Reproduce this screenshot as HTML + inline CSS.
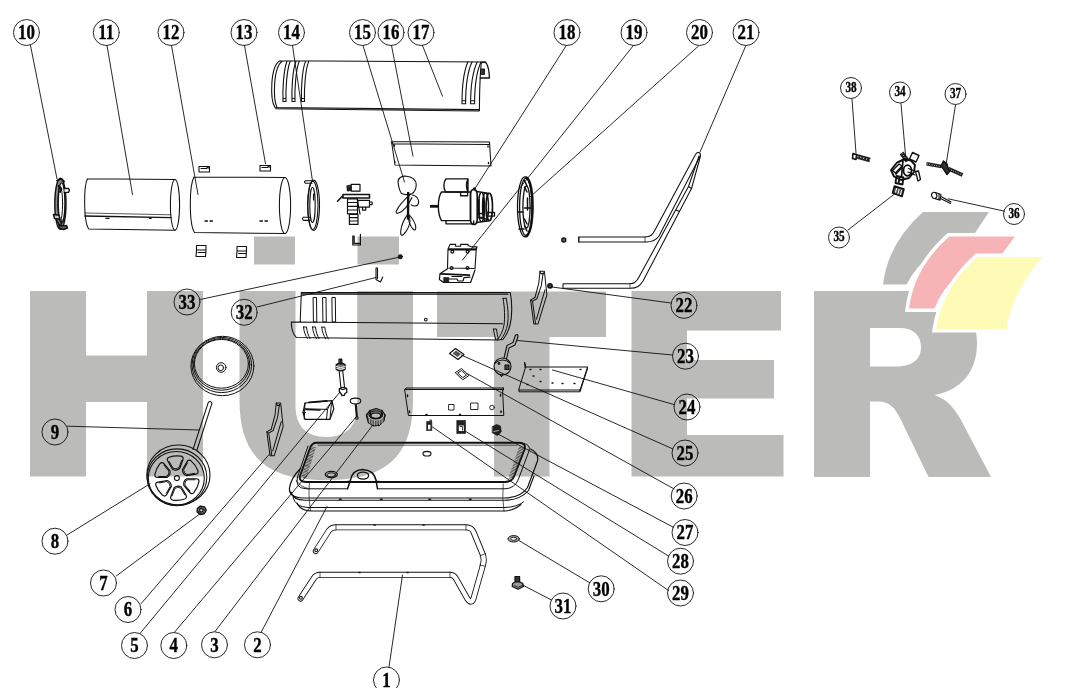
<!DOCTYPE html>
<html><head><meta charset="utf-8"><title>Parts diagram</title>
<style>
html,body{margin:0;padding:0;background:#fff;}
body{width:1082px;height:688px;overflow:hidden;font-family:"Liberation Serif",serif;}
svg{display:block;}
.l{fill:none;stroke:#111;stroke-width:0.9;stroke-linecap:round;stroke-linejoin:round;}
.p{stroke-width:1.05;}
.t{fill:none;stroke:#111;stroke-width:0.7;}
.k{fill:#222;stroke:#111;stroke-width:0.6;}
.n{font-family:"Liberation Serif",serif;font-weight:bold;fill:#000;text-anchor:middle;}
</style></head><body>
<svg width="1082" height="688" viewBox="0 0 1082 688">
<rect width="1082" height="688" fill="#fff"/>
<g id="wm" fill="#bbbbba">
<path d="M30,291H86V355.5H147V291H203V476.5H147V402H86V476.5H30Z"/>
<path d="M239.5,291H295.5V406C295.5,426 306.4,437 326.4,437C346.400,437 357.200,426 357.200,406V291H413V400C413,458 384.500,480 326.250,480C268,480 239.500,458 239.500,400Z"/>
<rect x="254" y="236.5" width="41" height="28"/><rect x="357.5" y="236.5" width="41.5" height="28"/>
<path d="M437,291.5H606V337H549.5V476.5H494V337H437Z"/>
<path d="M631.5,291H781V330.5H687V360H774V398.5H687V435H783.5V476.5H631.5Z"/>
<path d="M814,291H925C957,291 977,310 977,343C977,371 962,390 934.5,395C946,399 953,406 961,420L991,477H928.5L901,420C895,408 890,401.5 878,401.5H870V477H814Z M870,328V366.5H895C913,366.5 921,359 921,347.5C921,336 914,328 900,328Z" fill-rule="evenodd"/>
</g>
<g id="logo" stroke="#fff" stroke-width="7" stroke-linejoin="miter" paint-order="stroke">
<path fill="#bbbbba" d="M923,212L989,212L975,233Q925,248 906.5,284.5L883,284.5Q888,243 923,212Z"/>
<path fill="#f6b4b7" d="M949,236.5L1015,236.5L1002,254Q950,268 934.5,308.5L909,308.5Q914,268 949,236.5Z"/>
<path fill="#fdfbb6" d="M977,257L1042.5,257Q1012,292 1006.5,329L936,329Q942,289 977,257Z"/>
</g>
<g id="row1" class="l p">
<!-- ring 10 -->
<g stroke-width="1.400">
<ellipse cx="60.400" cy="203.800" rx="5.600" ry="25.500" fill="#8a8a8a"/>
<ellipse cx="61.600" cy="203" rx="3.300" ry="20" fill="#fff" stroke-width="1.200"/>
<ellipse cx="60.200" cy="203.500" rx="2.400" ry="17" stroke-width="1"/>
<path d="M57,180.500l4.500,-1.500l2.500,2.500M58.500,186l3,3l-1.500,3" stroke-width="1.800"/>
<path d="M64.500,188.500h4q1.800,1.800 0,3.800h-4" fill="#fff" stroke-width="1.300"/>
<path d="M53.500,214.500l5.500,0.800l1,4l-5.500,-0.800z" fill="#ccc" stroke-width="1.500"/>
<path d="M59,224.500l3,1.500l4.500,-0.500l1,2.500l-4,1.500l-4.500,-1.500z" fill="#666" stroke-width="1.400"/>
<path d="M57,220l3,6M62,220l-1,5" stroke-width="1.300"/>
</g>
<!-- cylinder 11 -->
<path d="M87.5,178.8L175,179.5M88.8,229L175,230.2M87.5,178.8C83.5,186 83.5,222 88.8,229"/>
<ellipse cx="175" cy="204.8" rx="4.6" ry="25.4"/>
<path d="M84.800,213L171,214.800" stroke-width="0.700"/><path d="M84.800,216L171.200,217.600" stroke-width="1.300"/>
<path d="M106,218.4h3M149.5,218.4h1.5" stroke-width="1.4"/>
<!-- cylinder 12 -->
<path d="M194,177L285,177.5M194.5,232.5L285,233.6M194,177C189,186 189,224 194.5,232.5"/>
<ellipse cx="285" cy="205.5" rx="5.6" ry="28"/>
<path d="M205,221h2.5M210,221h2.5M260,221h2.5M265,221h2.5" stroke-width="1.3"/>
<!-- clips 13 top -->
<path d="M199,166.5h10.5v5.5h-10.5zM201,168.5h6M206,166.5l3.5,2" stroke-width="1.1"/>
<path d="M260,165.5h10.5v5.5h-10.5zM262,167.5h6M267,165.5l3.5,2" stroke-width="1.1"/>
<!-- clips bottom -->
<path d="M196.5,245.5h9.5v4.5h-9.5zM196.5,250l-0.5,6.5h9.5l0.5,-6.5M198,252.5h7" stroke-width="1.1"/>
<path d="M237,246.5h9.5v4.5h-9.5zM237,251l-0.5,6.5h9.5l0.5,-6.5M238.5,253.500h7" stroke-width="1.1"/>
<!-- ring 14 -->
<g stroke-width="1.100">
<ellipse cx="313.700" cy="205.300" rx="5.800" ry="25.200"/>
<ellipse cx="312.800" cy="205.300" rx="5.200" ry="24.200"/>
<ellipse cx="312.500" cy="205" rx="2.700" ry="17.500"/>
<path d="M312,180.8h-6.5q-2,1.2 0,2.4h6.5M310,217.2h-6.5q-2.200,1.600 0,3.2h6.500M313.5,194v6"/>
</g>
<!-- burner assembly -->
<g stroke-width="1.2">
<path d="M351.200,184.400h8.800v6.800h-8.800zM347,186l4,-1v5l-3,1z"/>
<path d="M343,194.500h26.500v3.500h-26.500zM343,195.600l-5.500,5.600" stroke-width="1.5"/>
<path d="M347.500,198.800h10v15h-10zM347.500,202.500h10M347.500,206.300h10M347.500,210h10"/>
<path d="M349.400,214.400h8.600v10h-8.600zM349.400,217.700h8.600M349.400,221h8.600"/>
<path d="M358,200.300h11.500v6.800h-11.500zM369.500,202h2.600v2.600h-2.600M362.500,207.100v3h3.200v-3M357,198l3,16"/>
</g>
<path d="M347.500,186.500h3.600v4h-3.600z" class="k"/>
<!-- clip U -->
<path d="M352.800,236.200v8.800h7.600v-10.600M354.200,236.200v7.200h5M352.800,236.200h1.400" stroke-width="1.2"/>
<!-- fan 15 -->
<g stroke-width="1.100">
<path d="M398.100,182.500C397.500,178 402,175.800 406.300,176.200C411.500,176.600 416.300,179.500 416.200,185C416.100,189 414.500,192 412,193.800C409,195 404,195 401.300,193.300C399.500,190.500 398.500,186 398.100,182.500Z"/>
<path d="M410.800,194.200C405,199 398.500,206.500 396.200,211.300C395.800,213 397,213.500 398.500,213C403,211.500 408.500,205 411.900,197.500"/>
<path d="M412.500,195C415.500,195.800 418,198 418.600,201C419,204 417.500,205.800 415,206C413.500,206 412,205.500 411.200,204.800"/>
<path d="M407.800,214.400C404.500,218.500 401.500,225 400.700,231C400.300,235 401.500,236.200 403.500,234.500C406.500,231.500 409.500,225.500 410,221C410,218 409.300,216 408.600,215"/>
<path d="M409.400,215C412.500,218.500 415.500,223.500 415.800,227.500C415.800,230.500 414.500,230.500 413,229C411,227 409,222 408.300,218"/>
<path d="M408.200,192L408,219.500" stroke-width="2.400" stroke-linecap="butt"/>
</g>
<!-- motor 18 -->
<path d="M430,206.300H438" stroke-width="2.800" stroke-linecap="butt"/>
<g stroke-width="1.350">
<path d="M441.500,192H470.500V220.600H441.500C437.300,214 437.300,198 441.500,192Z"/>
<path d="M446,178.800H468V192H445.500C443.300,188 443.300,182 446,178.800ZM468,178.800C466,183 466,188 468,192"/>
<path d="M460.600,192v3.700h7v-3.700M446,220.600v3.200h27.700v-3"/>
<path d="M473.500,189.500C471,189.500 470.500,192 470.500,195V219C470.500,222.500 471.500,224.500 474,224.500C476.500,224.500 477.200,222.500 477.200,219V195C477.200,192 476.500,189.500 473.500,189.500Z" stroke-width="1.600"/>
<path d="M476.500,191.500L489,193.300M476.500,222.500L489,220.800"/>
<ellipse cx="481.500" cy="207" rx="3" ry="14.600"/>
<ellipse cx="485.500" cy="207" rx="3" ry="14.200"/>
<ellipse cx="489.300" cy="207" rx="3.200" ry="13.800" stroke-width="1.600"/>
<path d="M479,200v14M483.500,198v17" stroke-width="1.800"/>
<path d="M486.500,212.500h8v3.600h-8zM479.500,213.500h4.500v4h-4.500zM478.500,217.500l10,2" stroke-width="1.300"/>
</g>
<circle cx="474.400" cy="188.800" r="1.200" class="k"/>
<!-- ring 20 -->
<g stroke-width="1.300">
<ellipse cx="525" cy="206.900" rx="7.500" ry="30"/>
<ellipse cx="525.800" cy="206.900" rx="6.200" ry="28.600"/>
<ellipse cx="526.500" cy="207" rx="3.600" ry="21"/>
<path d="M526.500,177.500C531,180 532.800,195 532.600,207C532.400,220 530.500,233 526.500,236.300" stroke-width="2.400"/>
<path d="M518,212h5M519,229h5M527.500,198v12M524.500,208h6M524.500,180.500l2.500,5.500M524.500,187l2.500,5M524.500,226l2.500,5M524.500,219l2.500,5" stroke-width="1.500"/>
</g>
</g>
</g>
<g id="shells" class="l p">
<!-- upper shell 17 -->
<g stroke-width="1.100">
<path d="M280,60.800L486,62M275,107.500L479.500,109.600M280,60.800C270,66 270,100 275,107.500M275.500,108.800L479,111M282.500,61C273,67 273,99 277,107.500"/>
<path d="M481.300,62.500C480,75 479.500,95 479.400,110.500"/>
<path d="M481.300,63C483,61.800 485.500,62 486.500,63.500C488.500,67 489.300,73 489.400,78H480.200" stroke-width="1.300"/>
<path d="M481.500,69h2.900v5.400h-2.900z" fill="#333" stroke-width="1"/>
</g>
<g stroke-width="1.100">
<path d="M287,61.200C283.500,70 282.500,90 283,101.500h3C285.500,90 286.700,70 290.200,61.200M283,98.500h3"/>
<path d="M296,61.300C292.500,70 291.500,90 292,101.500h3C294.500,90 295.700,70 299.200,61.300M292,98.500h3"/>
<path d="M305.500,61.400C302,70 301,90 301.500,101.500h3C304,90 305.200,70 308.700,61.400M301.500,98.500h3"/>
<path d="M467.800,62C463.500,72 462,90 462,103.800h3.600C465.600,90 467.300,72 472,62M462,100.800h3.600"/>
<path d="M477.200,62C472.500,72 470.600,90 470.600,103.800h4C474.600,90 476.300,72 481,62M470.600,100.800h4"/>
</g>
<!-- plate 16 -->
<path d="M391.500,141.500L489.500,142L491,166L395,165ZM391.500,143.800L489.500,144.500M391.500,141.500l3.500,23.500"/>
<path d="M394.500,145v1M488,146v1M394.800,161.500v1M488.500,162.500v1" stroke-width="1.400"/>
<!-- lower shell -->
<path d="M301.300,292.500L510,292.500M291.300,322L502.500,323.800M296.300,337.500L497.500,340M301.300,292.500L300.200,322.300M291.300,322C291.300,329 293,334 296.300,337.500"/>
<path d="M302,294L508,294.200" stroke-width="1.300"/>
<path d="M510.200,292.500C512.300,302 512.300,316 510,325C508.500,331 506,336 503,339.500L497.500,340" stroke-width="1.100"/>
<g stroke-width="1">
<path d="M313.500,297.500h3l0.300,24.500h-3zM323,297.500h3l0.300,24.500h-3zM332.300,297.500h3l0.300,24.500h-3z"/>
<path d="M303.500,327h3C307,332 308.500,336 310,338.500M303.500,327C304,332 305.500,336 307.500,338.500"/>
<path d="M312.500,327h3C316,332 317.500,336 319,338.700M312.500,327C313,332 314.500,336 316.500,338.700"/>
<path d="M321.800,327.200h3C325.300,332 326.800,336 328.300,338.900M321.800,327.200C322.300,332 323.800,336 325.800,338.900"/>
<path d="M503,298.300h3.200M503,298.300C504.800,308 505,318 504,325C503,331 500.500,336 497.500,339.500M506.200,298.300C508.300,308 508.600,317 507.600,324C506.500,330 504,336 500.800,339.600"/><path d="M493.500,329h3C497,333 497.500,336 498.500,339M493.500,329C494,333 495,337 496,339.800"/>
</g>
<circle cx="425.800" cy="319.600" r="1.400"/>
<!-- bracket 19 -->
<path d="M450,244.400H455.600V246.300H460.600V244.400H468V245.600L472,246.900H477L476.200,250L475,268.500L447.500,268L448,249Z" stroke-width="1.100"/>
<path d="M448,249.400H476.200" stroke-width="2.200" stroke-linecap="butt"/>
<path d="M447.500,268.700L440,273.800L439.400,279.400L443.800,282.500H470.600L475,270" stroke-width="1.200"/>
<path d="M440.600,273.800L469.400,275.200" stroke-width="1.800"/>
<path d="M448.800,279H457L458,281H463L464,277.600L470,277.200M452,276.500h10" stroke-width="1.200"/>
<path d="M443.800,277.500h5v5h-5z" class="k"/>
<circle cx="452.300" cy="251.800" r="1.400" stroke-width="1.200"/><circle cx="467.500" cy="251.800" r="1.400" stroke-width="1.200"/><circle cx="451.600" cy="268" r="1.400" stroke-width="1.200"/><circle cx="467.500" cy="268" r="1.400" stroke-width="1.200"/>
<!-- part 33, 32 -->
<circle cx="400.300" cy="256.800" r="2.200" class="k"/>
<path d="M376,268v11.500l4.500,2.500l2.200,-5M377.500,268v10.500M376,268h1.500" stroke-width="1.100"/>
<!-- side brackets -->
<g id="sbr" stroke-width="1" transform="translate(0,271.300) scale(1,1.048) translate(0,-271.300)">
<path d="M540,271.300H544.400L546.900,293.800L538,321.500H533.800L530.600,298.800L535,296.300L538.800,282.500Z"/>
<path d="M543.200,272.500L541.300,285L536.900,297.500L532.500,300L535.500,321M545,289L536.500,317M540,271.300l0.800,2.200h3M530.600,298.800l2,1.200"/>
</g>
<use href="#sbr" transform="translate(-263.750,131.750)"/>
<!-- handle 21 -->
<path d="M578.800,237H645C651,237 653,234 655,230L695.500,154.500C697,151.500 700.500,152 700.500,155.500L659,236C656,240.500 652,242 646,242H578.800Z"/>
<path d="M563,283.800H630C635,283.800 637,281 639,277L688.500,186.500L699,156M563,288.300H630C637,288.300 640,286 643,281L691.500,188.500L700.500,156M563,283.800V288.300M578.800,237V242M688.500,186.500L691.500,188.500M676,210l3.500,1.500"/>
<path d="M645,237v5M630,283.800v4.500" stroke-width="0.700"/>
<circle cx="563.800" cy="240" r="2" stroke-width="1.400" fill="#666"/>
<circle cx="550" cy="285.800" r="2.100" stroke-width="1.600" fill="#444"/>
</g>
<g id="left" class="l p">
<!-- disk -->
<g stroke-width="1">
<ellipse cx="222.400" cy="366" rx="31.500" ry="29.700"/>
<ellipse cx="221.800" cy="365" rx="29.800" ry="27.600"/>
<ellipse cx="221.600" cy="364.400" rx="28.200" ry="25.800"/>
<ellipse cx="221.400" cy="363.800" rx="27" ry="24.400"/>
<circle cx="221.200" cy="367.500" r="4.800"/><circle cx="220.800" cy="367.800" r="2.800"/>
</g>
<!-- axle 9 -->
<path d="M208.300,402.300L193,449.500M212,403.200L196.800,450.500M208.300,402.300q2.200,-2 3.700,0.900"/>
<!-- wheel 8 -->
<g stroke-width="1.100">
<ellipse cx="178.400" cy="475" rx="31.600" ry="30"/>
<ellipse cx="177" cy="477.300" rx="29.800" ry="28.400"/>
<ellipse cx="176.300" cy="478.300" rx="28" ry="26.800"/>
<circle cx="176.900" cy="478.100" r="2.500"/>
</g>
<g id="spokes" stroke-width="1.200">
<g transform="translate(176.900,478.100) rotate(-5)"><path d="M-6,-21.500Q0,-23 6,-21.500Q8.800,-20.500 7.600,-17.800L3.600,-9.300Q0,-6.800 -3.600,-9.300L-7.600,-17.800Q-8.800,-20.500 -6,-21.500Z"/><path d="M-6.300,-17.300L-3,-10.300Q0,-8.300 3,-10.300L6.300,-17.300" stroke-width="0.900"/></g>
<g transform="translate(176.900,478.100) rotate(55)"><path d="M-6,-21.500Q0,-23 6,-21.500Q8.800,-20.500 7.600,-17.800L3.600,-9.300Q0,-6.800 -3.600,-9.300L-7.600,-17.800Q-8.800,-20.500 -6,-21.500Z"/><path d="M-6.300,-17.300L-3,-10.300Q0,-8.300 3,-10.300L6.300,-17.300" stroke-width="0.900"/></g>
<g transform="translate(176.900,478.100) rotate(115)"><path d="M-6,-21.500Q0,-23 6,-21.500Q8.800,-20.500 7.600,-17.800L3.600,-9.300Q0,-6.800 -3.600,-9.300L-7.600,-17.800Q-8.800,-20.500 -6,-21.500Z"/><path d="M-6.300,-17.300L-3,-10.300Q0,-8.300 3,-10.300L6.300,-17.300" stroke-width="0.900"/></g>
<g transform="translate(176.900,478.100) rotate(175)"><path d="M-6,-21.500Q0,-23 6,-21.500Q8.800,-20.500 7.600,-17.800L3.600,-9.300Q0,-6.800 -3.600,-9.300L-7.600,-17.800Q-8.800,-20.500 -6,-21.500Z"/><path d="M-6.300,-17.300L-3,-10.300Q0,-8.300 3,-10.300L6.300,-17.300" stroke-width="0.900"/></g>
<g transform="translate(176.900,478.100) rotate(235)"><path d="M-6,-21.500Q0,-23 6,-21.500Q8.800,-20.500 7.600,-17.800L3.600,-9.300Q0,-6.800 -3.600,-9.300L-7.600,-17.800Q-8.800,-20.500 -6,-21.500Z"/><path d="M-6.300,-17.300L-3,-10.300Q0,-8.300 3,-10.300L6.300,-17.300" stroke-width="0.900"/></g>
<g transform="translate(176.900,478.100) rotate(295)"><path d="M-6,-21.500Q0,-23 6,-21.500Q8.800,-20.500 7.600,-17.800L3.600,-9.300Q0,-6.800 -3.600,-9.300L-7.600,-17.800Q-8.800,-20.500 -6,-21.500Z"/><path d="M-6.300,-17.300L-3,-10.300Q0,-8.300 3,-10.300L6.300,-17.300" stroke-width="0.900"/></g>
</g>
<!-- nut 7 -->
<path d="M197.300,508.500l3,-2.400l4.200,0.800l1.700,3.200l-1.900,3.700l-4.200,0.800l-3,-2.600z" stroke-width="1.300" fill="#777"/>
<path d="M198.500,508.200l6,5M200.500,506.800l5,4.300M198,511l4.500,3.600" stroke-width="0.800"/>
<circle cx="201.300" cy="510.300" r="1.700" stroke-width="1.100" fill="#ddd"/>
<!-- bracket 6 (use of side bracket) -->
<!-- box -->
<path d="M305,403L331.900,400.600L333.800,408.800L330,419.400H305L303,412.500Z" stroke-width="1.200"/>
<path d="M305,403L304.200,419M305,408.800L327.500,409.400L331.900,400.600M327.500,409.400L326.500,419.400M303,412.500h2.500M331.500,403l-1.500,16" stroke-width="1"/>
<path d="M309,402.400L327,400.900M306,409.500L320,410" stroke-width="1.700"/>
<!-- rod 5 -->
<path d="M339.200,371.500L341,388.500M342.800,371.500L344.600,388" stroke-width="1.100"/>
<path d="M339.300,388.500l3.500,-1.200l3.800,1l0.300,4l-2,1.200l-0.500,1.800l-2.600,0.200l-0.800,-2l-1.600,-1.500z" stroke-width="1.300"/>
<path d="M339.300,388.800q3.800,2 7.300,-0.300" stroke-width="1"/>
<path d="M336.300,364.500q4.400,-2.600 8.700,0v5q-4.300,2.800 -8.700,0z" fill="#777" stroke-width="1.400"/>
<path d="M336.300,366.500q4.400,2.500 8.700,0M336.500,368.300q4.300,2.500 8.300,0" stroke-width="0.900" stroke="#fff"/>
<path d="M339.300,359h2.600v5h-2.600z" fill="#222" stroke-width="1"/>
<!-- part 4 -->
<ellipse cx="355.500" cy="401" rx="5.300" ry="2.900"/>
<path d="M355.200,404L356.300,416.500M356.300,404L357.300,416.500"/>
<circle cx="356.900" cy="418" r="1.300"/>
<!-- cap 3 -->
<g stroke-width="1.300">
<path d="M366.500,415l3.500,-4.500l6,-1.800l6,1.800l3,4.500l-1,5.500l-4.500,4.500l-6,0.800l-5,-3z"/>
<ellipse cx="375.800" cy="414.800" rx="6.800" ry="4"/>
<ellipse cx="375.800" cy="415.600" rx="5" ry="2.800"/>
<path d="M366.500,415l1.500,5M370,410.500l0.800,6M382,410.500l-0.500,6M385,415l-1.500,5M372,425l0.500,-4M378.500,425.500l0.300,-4"/><path d="M367.500,417q8,7 17,0.500l-1,4.500q-7.500,6 -14.500,0.500z" fill="#555" stroke="none"/><path d="M369.500,419v4M372,420.500v4M374.500,421v4M377,421v4M379.500,420.500v4M382,419.500v3.500" stroke="#ddd" stroke-width="0.600"/>
</g>
</g>
<g id="mid" class="l p">
<!-- panel -->
<path d="M405,389.500H502.500L503.800,415.500H408.800ZM405,389.500l1,-1.500h97.500l-1,1.500M503.500,388v2" stroke-width="1"/>
<path d="M449,404.500h5v5.500h-5zM471,403h7v6.500h-7z" stroke-width="0.900"/>
<circle cx="492" cy="407.500" r="2.300" stroke-width="0.900"/>
<path d="M407.500,395v1.500M409.500,411v1.500M500.500,394.500v1.500M501,411v1.500M426,414.500h1M459.500,414.500h1" stroke-width="1.500"/>
<!-- small parts 29 28 27 -->
<path d="M426.800,421.500h5v9h-5zM429.500,420h2v1.500" class="k"/><path d="M428,424.800h2.400v4.600h-2.400z" fill="#fff" stroke="none"/>
<path d="M457,420.500h8.500v13h-8.500z" class="k"/><path d="M458.800,425.500h5v5.500h-5z" fill="#fff" stroke="none"/><path d="M460,426.500h2.500v3.500" stroke="#111" stroke-width="0.800" fill="none"/>
<path d="M492.500,426.500l4,-2l4,1.500l0.800,6l-4,3.500l-4.800,-2.500z" class="k"/><path d="M494,431.500l4.500,-1" stroke="#ccc" stroke-width="0.800"/>
<!-- squares 25,26 -->
<path d="M449.500,353.500l6,-5l8.500,6l-6,5z" stroke-width="1.200"/><path d="M452.500,353.500l3.500,-3l5,3.500l-3.500,3z" fill="#555" stroke="none"/>
<path d="M455.500,372.500l6,-4l7.500,7l-6,4zM458,372.800l3.500,-2.300l5,4.600l-3.500,2.300z" stroke-width="1"/>
<!-- round part 23/25 -->
<g stroke-width="1.100">
<circle cx="502.500" cy="366.500" r="8.500"/>
<path d="M494.500,363.500q8,-7 16,0M500,374.500l1.500,2l1.500,-2"/>
<path d="M504,358l3,-12.500l6,-3l2.500,-7.500l2,-0.500l0.500,2l-3,8.500l-6,3l-2.500,11M517.500,334.500l-2,0.500"/>
<path d="M505,365h4v4.500h-4z" fill="#444"/>
<circle cx="499" cy="363.500" r="0.900"/>
</g>
<!-- plate 24 -->
<path d="M526,367H587.500L580,390H519ZM519,390v1.800h60.500l0.500,-1.800M587.500,367v1.800l-7.500,23M526,367l-1.500,-5l0.500,5.500" stroke-width="1"/>
<path d="M530,369.500h1M540,369.500h1M580,369.500h1M533,376h1M562,383.500h1M574,383.500h1M527,384.500h1M540,381.500h1M552,383h1" stroke-width="1.300"/>
</g>
<g id="tank" class="l p">
<!-- tank 2 -->
<path d="M316,442.800H519Q526.500,443 524.500,449.500L514,476.500Q512,481.800 505,482H306Q298.500,481.500 300,476L309.500,449.500Q311.500,443 316,442.800Z" stroke-width="1.900"/>
<path d="M313.500,447L303.500,478.500" stroke-width="5" stroke="#333" stroke-dasharray="0.600 0.900" stroke-linecap="butt"/>
<path d="M521.500,447.500L510.500,479.500" stroke-width="5" stroke="#333" stroke-dasharray="0.600 0.900" stroke-linecap="butt"/>
<path d="M318,445.200H517" stroke-width="0.700"/>
<path d="M308,446L297.500,477Q294.500,488 306,488.800H347M378,488.800H505Q515,488.500 518.500,479L529,451Q531,445 524,443.500" stroke-width="1"/>
<path d="M300,469Q291,478 289.500,488Q288.500,497.500 303,498H505Q521,497.500 527.500,487.500L537.500,461Q539,453 530.500,449" stroke-width="1.200"/>
<path d="M291,492Q293,500 305,500.300H505Q520,500 528.500,490.500L534,476" stroke-width="1.100"/>
<path d="M293,497Q295,507 308,507.500H505Q517,507 523.500,502" stroke-width="1"/>
<path d="M297,503Q300,510.500 311,511H505Q514,510.500 521,504.500" stroke-width="1.100"/>
<path d="M309.500,482.500Q308,495 310.500,510.500M503.200,484Q502,498 504,511M296,480Q300,487 309,488.800" stroke-width="0.700"/>
<path d="M339.500,499.200h1.500M380.500,499.200h1.500M429,499.200h1.500M469.500,499.200h1.500" stroke-width="1.600"/>
<ellipse cx="427" cy="453.700" rx="4" ry="2.300" stroke-width="1.100"/>
<ellipse cx="331.300" cy="474.400" rx="6" ry="3.100" stroke-width="1.300"/><ellipse cx="331.300" cy="474.900" rx="4.300" ry="2" stroke-width="0.900"/>
<path d="M347.500,488.800L350.500,480Q352,470 362.500,469.400Q374,470 376,480L377.500,488.800M350.500,481.500h-3M376,481.500h3" stroke-width="1.500"/>
<path d="M372,472Q375.500,476 376.500,482" stroke-width="0.800"/>
<ellipse cx="363" cy="475.600" rx="5.600" ry="3.500" stroke-width="1.300"/>
<!-- frame 1 -->
<path d="M315.800,551L329,530.500Q331.500,527.300 336,527.300H466Q471.500,527.300 473.500,532L482.800,554.500Q484.500,559.500 483,565L473.500,598.500Q471.500,604.500 467.500,599L456.500,579.500Q454.500,574.800 450,574.800H320Q316,574.800 314,578L300.500,598.500" stroke="#111" stroke-width="6" fill="none" stroke-linecap="round" stroke-linejoin="round"/>
<path d="M315.800,551L329,530.500Q331.500,527.300 336,527.300H466Q471.500,527.300 473.500,532L482.800,554.500Q484.500,559.500 483,565L473.500,598.500Q471.500,604.500 467.500,599L456.500,579.500Q454.500,574.800 450,574.800H320Q316,574.800 314,578L300.500,598.500" stroke="#fff" stroke-width="4.300" fill="none" stroke-linecap="round" stroke-linejoin="round"/>
<path d="M336,524.500v5.600M466,524.500v5.600M320,572v5.600M450,572v5.600M480,555.800l5.500,-2.200M479.500,565l5.800,1.200" stroke-width="0.700"/>
<circle cx="316.200" cy="550.300" r="1.400"/><circle cx="300.900" cy="597.800" r="1.400"/>
<path d="M374,525h1.200M423,525h1.200M359,572.500h1.200M407,572.500h1.200" stroke-width="1.500"/>
<!-- washer 30 -->
<ellipse cx="513.700" cy="538.800" rx="5.800" ry="3.200" fill="#aaa" stroke-width="1"/><ellipse cx="513.700" cy="538.800" rx="3" ry="1.500" fill="#fff" stroke-width="0.900"/>
<!-- bolt 31 -->
<path d="M515,576.500h4.600v6.500h-4.600z" fill="#333" stroke-width="1.200"/>
<path d="M512.500,583.500l2.500,-1.500h5l2.800,1.500l0.700,3l-5.500,2.800l-5.800,-2.800z" fill="#999" stroke-width="1.200"/>
<path d="M514,585.500l4,1.800l4.500,-1.800" stroke-width="0.800"/>
</g>
<g id="small" class="l p">
<!-- 38 screw -->
<path d="M853,153.500l3.500,1l-0.500,5l-3.500,-1z" stroke-width="1.600"/>
<path d="M856.500,156.200l13.500,3.800" stroke-width="4.600" stroke="#222" stroke-linecap="butt"/>
<path d="M857.500,156.600l12,3.300" stroke-width="1.200" stroke="#fff" stroke-dasharray="0.900 2.100" stroke-linecap="butt"/>
<!-- 34 body -->
<g stroke-width="1.500">
<path d="M901.500,153l6,8" stroke-width="4.600" stroke="#222" stroke-linecap="butt"/>
<path d="M902,153.500l5,7" stroke-width="1" stroke="#fff" stroke-dasharray="0.700 1.500" stroke-linecap="butt"/>
<path d="M912.500,152.500l6.500,3l-3,6.500l-6.500,-3z" stroke-width="1.400"/>
<path d="M891,170l6,-7.500l7,-3.500l7,1.500l4,4.500l-1,7l-5,6l-8,2l-7,-3.500z" stroke-width="1.900"/>
<path d="M892.500,170.500l6.500,-6.500l3,2l-6.500,7z" fill="#fff" stroke-width="1.500"/>
<path d="M896,174l5.500,-6M903,160.500l-1.500,16.500M899,162l5,-2.500l3,1" stroke-width="1.700"/>
<ellipse cx="907.500" cy="170.500" rx="4" ry="5.300" stroke-width="1.800"/>
<path d="M908.500,168.500l8,3.500M908,172l7,3" stroke-width="1.300"/>
<path d="M915.500,171.500l3,-0.500l2,8.500l-2.500,1.500z" fill="#fff" stroke-width="1.300"/>
<path d="M896.500,176l7,1.500l-1,7l-7,-1.500zM899.500,177.500l-0.800,5" stroke-width="1.800"/>
</g>
<!-- 35 -->
<path d="M894.500,186l9.500,3l-2,7.500l-9.500,-3.500z" stroke-width="1.600" fill="#555"/>
<path d="M896.500,188.500l-1,4M899,189.500l-1,4M901.500,190.500l-1,4" stroke="#fff" stroke-width="1"/>
<!-- 37 -->
<path d="M926.500,163.800l15,2.800" stroke-width="3.600" stroke="#222" stroke-linecap="butt"/>
<path d="M927,163.900l14,2.600" stroke-width="1" stroke="#fff" stroke-dasharray="0.700 1.700" stroke-linecap="butt"/>
<path d="M948,168.500l14.500,6.500" stroke-width="3.600" stroke="#222" stroke-linecap="butt"/>
<path d="M949,169l13,5.800" stroke-width="1" stroke="#fff" stroke-dasharray="0.700 1.700" stroke-linecap="butt"/>
<path d="M943.500,161l3.500,3l1,4.500l2,2.500l-3,3.500l-3.500,-5.500l-2.500,-3z" stroke-width="1.400" fill="#333"/>
<!-- 36 -->
<ellipse cx="934.200" cy="195.400" rx="2.600" ry="3.100" transform="rotate(-20 934.200 195.400)" stroke-width="1.100"/>
<path d="M935.500,192.600l5.500,2l-1,5.500l-5,-1.500M939,194v5.500M941,196.500l10,5.500M940.500,198.500l10,5" stroke-width="1.100"/>
</g>
<g id="callouts" opacity="0.999">
<line class="l" x1="30.5" y1="45.5" x2="57.0" y2="178.8"/><circle class="l" cx="26.5" cy="32.5" r="13.0"/><text class="n" font-size="20.3" stroke="#000" stroke-width="0.4" transform="translate(26.5,39.3) scale(0.83,1)">10</text>
<line class="l" x1="107.0" y1="45.5" x2="132.5" y2="194.5"/><circle class="l" cx="106.3" cy="32.5" r="13.0"/><text class="n" font-size="20.3" stroke="#000" stroke-width="0.4" transform="translate(106.3,39.3) scale(0.83,1)">11</text>
<line class="l" x1="171.5" y1="45.5" x2="198.0" y2="194.5"/><circle class="l" cx="171.0" cy="32.5" r="13.0"/><text class="n" font-size="20.3" stroke="#000" stroke-width="0.4" transform="translate(171.0,39.3) scale(0.83,1)">12</text>
<line class="l" x1="244.5" y1="45.5" x2="265.5" y2="163.8"/><circle class="l" cx="244.0" cy="32.5" r="13.0"/><text class="n" font-size="20.3" stroke="#000" stroke-width="0.4" transform="translate(244.0,39.3) scale(0.83,1)">13</text>
<line class="l" x1="292.5" y1="45.5" x2="312.5" y2="181.0"/><circle class="l" cx="291.5" cy="32.5" r="13.0"/><text class="n" font-size="20.3" stroke="#000" stroke-width="0.4" transform="translate(291.5,39.3) scale(0.83,1)">14</text>
<line class="l" x1="363.0" y1="45.5" x2="404.5" y2="182.0"/><circle class="l" cx="362.5" cy="32.5" r="13.0"/><text class="n" font-size="20.3" stroke="#000" stroke-width="0.4" transform="translate(362.5,39.3) scale(0.83,1)">15</text>
<line class="l" x1="391.5" y1="45.5" x2="413.0" y2="156.2"/><circle class="l" cx="391.0" cy="32.5" r="13.0"/><text class="n" font-size="20.3" stroke="#000" stroke-width="0.4" transform="translate(391.0,39.3) scale(0.83,1)">16</text>
<line class="l" x1="422.5" y1="45.5" x2="442.5" y2="96.2"/><circle class="l" cx="421.0" cy="32.5" r="13.0"/><text class="n" font-size="20.3" stroke="#000" stroke-width="0.4" transform="translate(421.0,39.3) scale(0.83,1)">17</text>
<line class="l" x1="566.0" y1="46.0" x2="474.0" y2="190.0"/><circle class="l" cx="567.0" cy="32.5" r="13.0"/><text class="n" font-size="20.3" stroke="#000" stroke-width="0.4" transform="translate(567.0,39.3) scale(0.83,1)">18</text>
<line class="l" x1="633.0" y1="46.0" x2="462.5" y2="260.0"/><circle class="l" cx="634.0" cy="32.5" r="13.0"/><text class="n" font-size="20.3" stroke="#000" stroke-width="0.4" transform="translate(634.0,39.3) scale(0.83,1)">19</text>
<line class="l" x1="698.5" y1="46.0" x2="530.0" y2="197.0"/><circle class="l" cx="699.5" cy="32.5" r="13.0"/><text class="n" font-size="20.3" stroke="#000" stroke-width="0.4" transform="translate(699.5,39.3) scale(0.83,1)">20</text>
<line class="l" x1="745.5" y1="46.5" x2="700.0" y2="152.0"/><circle class="l" cx="746.0" cy="32.5" r="13.0"/><text class="n" font-size="20.3" stroke="#000" stroke-width="0.4" transform="translate(746.0,39.3) scale(0.83,1)">21</text>
<line class="l" x1="671.0" y1="303.0" x2="552.0" y2="287.0"/><circle class="l" cx="684.0" cy="305.4" r="13.0"/><text class="n" font-size="20.3" stroke="#000" stroke-width="0.4" transform="translate(684.0,312.2) scale(0.83,1)">22</text>
<line class="l" x1="672.5" y1="355.0" x2="517.5" y2="340.5"/><circle class="l" cx="685.5" cy="356.2" r="13.0"/><text class="n" font-size="20.3" stroke="#000" stroke-width="0.4" transform="translate(685.5,363.1) scale(0.83,1)">23</text>
<line class="l" x1="673.8" y1="404.5" x2="552.5" y2="370.0"/><circle class="l" cx="687.0" cy="407.0" r="13.0"/><text class="n" font-size="20.3" stroke="#000" stroke-width="0.4" transform="translate(687.0,413.8) scale(0.83,1)">24</text>
<line class="l" x1="672.5" y1="448.8" x2="461.2" y2="355.0"/><circle class="l" cx="685.0" cy="453.0" r="13.0"/><text class="n" font-size="20.3" stroke="#000" stroke-width="0.4" transform="translate(685.0,459.8) scale(0.83,1)">25</text>
<line class="l" x1="673.8" y1="488.8" x2="467.5" y2="373.8"/><circle class="l" cx="684.2" cy="496.0" r="13.0"/><text class="n" font-size="20.3" stroke="#000" stroke-width="0.4" transform="translate(684.2,502.8) scale(0.83,1)">26</text>
<line class="l" x1="673.8" y1="527.5" x2="497.5" y2="433.8"/><circle class="l" cx="685.0" cy="532.5" r="13.0"/><text class="n" font-size="20.3" stroke="#000" stroke-width="0.4" transform="translate(685.0,539.3) scale(0.83,1)">27</text>
<line class="l" x1="668.8" y1="556.2" x2="465.0" y2="431.0"/><circle class="l" cx="680.5" cy="561.2" r="13.0"/><text class="n" font-size="20.3" stroke="#000" stroke-width="0.4" transform="translate(680.5,568.1) scale(0.83,1)">28</text>
<line class="l" x1="668.5" y1="590.5" x2="432.5" y2="427.0"/><circle class="l" cx="680.5" cy="593.0" r="13.0"/><text class="n" font-size="20.3" stroke="#000" stroke-width="0.4" transform="translate(680.5,599.8) scale(0.83,1)">29</text>
<line class="l" x1="589.7" y1="582.8" x2="518.8" y2="540.5"/><circle class="l" cx="601.2" cy="588.8" r="13.0"/><text class="n" font-size="20.3" stroke="#000" stroke-width="0.4" transform="translate(601.2,595.6) scale(0.83,1)">30</text>
<line class="l" x1="551.5" y1="600.0" x2="522.5" y2="585.0"/><circle class="l" cx="563.0" cy="606.0" r="13.0"/><text class="n" font-size="20.3" stroke="#000" stroke-width="0.4" transform="translate(563.0,612.8) scale(0.83,1)">31</text>
<line class="l" x1="257.0" y1="307.0" x2="376.0" y2="277.5"/><circle class="l" cx="244.2" cy="312.3" r="13.0"/><text class="n" font-size="20.3" stroke="#000" stroke-width="0.4" transform="translate(244.2,319.1) scale(0.83,1)">32</text>
<line class="l" x1="200.0" y1="299.5" x2="400.0" y2="257.0"/><circle class="l" cx="187.0" cy="302.0" r="13.0"/><text class="n" font-size="20.3" stroke="#000" stroke-width="0.4" transform="translate(187.0,308.8) scale(0.83,1)">33</text>
<line class="l" x1="67.5" y1="426.2" x2="198.8" y2="430.0"/><circle class="l" cx="55.0" cy="432.0" r="13.0"/><text class="n" font-size="20.3" stroke="#000" stroke-width="0.4" transform="translate(55.0,438.8) scale(0.83,1)">9</text>
<line class="l" x1="67.0" y1="535.0" x2="150.0" y2="483.8"/><circle class="l" cx="55.0" cy="541.2" r="13.0"/><text class="n" font-size="20.3" stroke="#000" stroke-width="0.4" transform="translate(55.0,548.1) scale(0.83,1)">8</text>
<line class="l" x1="116.2" y1="576.0" x2="200.0" y2="513.8"/><circle class="l" cx="103.5" cy="583.0" r="13.0"/><text class="n" font-size="20.3" stroke="#000" stroke-width="0.4" transform="translate(103.5,589.8) scale(0.83,1)">7</text>
<line class="l" x1="141.2" y1="603.5" x2="270.0" y2="453.5"/><circle class="l" cx="128.0" cy="609.5" r="13.0"/><text class="n" font-size="20.3" stroke="#000" stroke-width="0.4" transform="translate(128.0,616.3) scale(0.83,1)">6</text>
<line class="l" x1="140.0" y1="633.5" x2="340.0" y2="392.0"/><circle class="l" cx="134.5" cy="645.5" r="13.0"/><text class="n" font-size="20.3" stroke="#000" stroke-width="0.4" transform="translate(134.5,652.3) scale(0.83,1)">5</text>
<line class="l" x1="174.5" y1="632.2" x2="357.0" y2="416.0"/><circle class="l" cx="173.8" cy="645.5" r="13.0"/><text class="n" font-size="20.3" stroke="#000" stroke-width="0.4" transform="translate(173.8,652.3) scale(0.83,1)">4</text>
<line class="l" x1="215.0" y1="631.5" x2="372.5" y2="425.5"/><circle class="l" cx="214.5" cy="644.8" r="13.0"/><text class="n" font-size="20.3" stroke="#000" stroke-width="0.4" transform="translate(214.5,651.6) scale(0.83,1)">3</text>
<line class="l" x1="261.2" y1="632.2" x2="327.0" y2="506.5"/><circle class="l" cx="257.5" cy="644.8" r="13.0"/><text class="n" font-size="20.3" stroke="#000" stroke-width="0.4" transform="translate(257.5,651.6) scale(0.83,1)">2</text>
<line class="l" x1="389.0" y1="667.0" x2="402.5" y2="575.0"/><circle class="l" cx="386.5" cy="680.0" r="13.0"/><text class="n" font-size="20.3" stroke="#000" stroke-width="0.4" transform="translate(386.5,686.8) scale(0.83,1)">1</text>
<line class="l" x1="852.0" y1="99.0" x2="856.0" y2="153.0"/><circle class="l" cx="851.0" cy="88.0" r="10.5"/><text class="n" font-size="14.4" stroke="#000" stroke-width="0.4" transform="translate(851.0,91.9) scale(0.78,1)">38</text>
<line class="l" x1="901.0" y1="103.5" x2="905.5" y2="155.0"/><circle class="l" cx="900.0" cy="92.5" r="10.5"/><text class="n" font-size="14.4" stroke="#000" stroke-width="0.4" transform="translate(900.0,96.4) scale(0.78,1)">34</text>
<line class="l" x1="955.5" y1="105.0" x2="946.0" y2="165.0"/><circle class="l" cx="955.5" cy="94.0" r="10.5"/><text class="n" font-size="14.4" stroke="#000" stroke-width="0.4" transform="translate(955.5,97.9) scale(0.78,1)">37</text>
<line class="l" x1="1004.5" y1="211.2" x2="948.2" y2="198.8"/><circle class="l" cx="1014.0" cy="214.0" r="10.5"/><text class="n" font-size="14.4" stroke="#000" stroke-width="0.4" transform="translate(1014.0,217.9) scale(0.78,1)">36</text>
<line class="l" x1="848.0" y1="230.0" x2="895.8" y2="193.0"/><circle class="l" cx="839.0" cy="237.5" r="10.5"/><text class="n" font-size="14.4" stroke="#000" stroke-width="0.4" transform="translate(839.0,241.4) scale(0.78,1)">35</text>
</g>
</svg>
</body></html>
